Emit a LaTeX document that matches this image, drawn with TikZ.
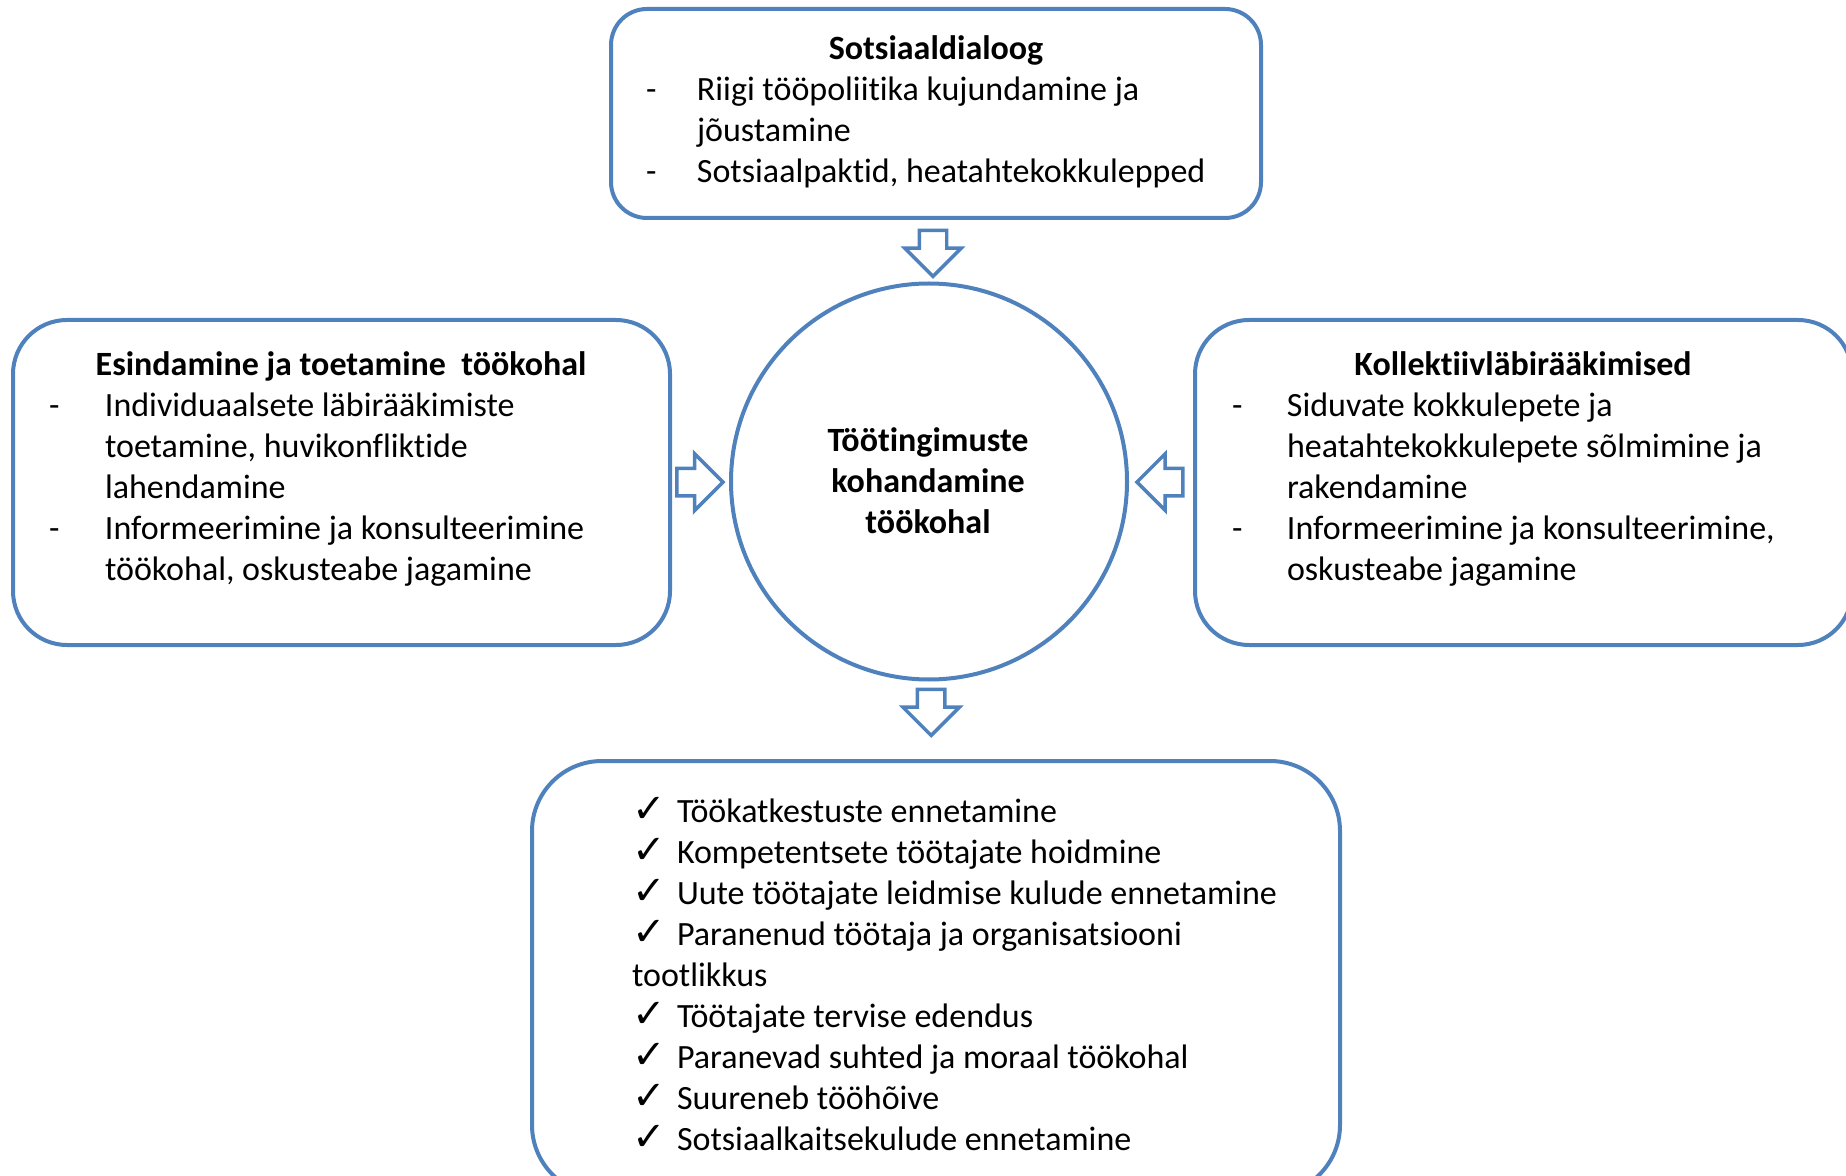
\documentclass[tikz,border=0pt]{standalone}
\usepackage{fontspec}
\setmainfont{Carlito}[Ligatures=NoCommon]
\newfontfamily\chkfont{DejaVu Sans}
\usetikzlibrary{shapes.arrows,calc}
\definecolor{frameblue}{RGB}{79,129,189}
\newcommand{\chk}{{\chkfont\fontsize{30}{30}\selectfont ✓}}
\tikzset{every picture/.style={line width=3pt}}
\tikzset{
	roundbox/.style={draw=frameblue, line width=3pt, fill=white, inner sep=0pt},
	ringnode/.style={draw=frameblue, line width=3pt, circle, inner sep=0pt, minimum size=297pt},
	blockarr/.style={single arrow, draw=frameblue, line width=2.6pt, fill=white, inner xsep=6pt, inner ysep=9pt, minimum height=34.5pt, single arrow head extend=10.9pt},
	boxtext/.style={inner sep=0pt, font=\fontsize{25.5}{30.75}\selectfont},
	titletext/.style={inner sep=0pt, font=\fontsize{25.5}{30.75}\selectfont\bfseries},
}

\begin{document}
\begin{tikzpicture}[x=0.75pt,y=0.75pt,yscale=-1,xscale=1]
	\useasboundingbox (0,0) rectangle (1846,1176);
	\clip (0,0) rectangle (1846,1176);
	
	%Shape: Rounded Rectangle [top] 
	\node[roundbox, minimum width=487.5pt, minimum height=156.75pt, rounded corners=27pt] (sd) at (936,113.5) {};
	%Shape: Rounded Rectangle [left] 
	\node[roundbox, minimum width=492.75pt, minimum height=243.75pt, rounded corners=40.5pt] (rep) at (341.5,482.5) {};
	%Shape: Rounded Rectangle [right] 
	\node[roundbox, minimum width=492.75pt, minimum height=243.75pt, rounded corners=40.5pt] (coll) at (1523.5,482.5) {};
	%Shape: Rounded Rectangle [bottom] 
	\node[roundbox, minimum width=606pt, minimum height=325.5pt, rounded corners=52.5pt] (res) at (936,978) {};
	%Shape: Circle 
	\node[ringnode] (core) at (929,481.5) {};
	
	%Block Arrows 
	\node[blockarr, rotate=-90] (arrsd) at ($(sd.south)!0.43!(core.north)$) {};
	\node[blockarr] (arrrep) at ($(rep.east)!0.37!(core.west)$) {};
	\node[blockarr, rotate=180] (arrcoll) at ($(coll.west)!0.41!(core.east)$) {};
	\node[blockarr, rotate=-90] (arrres) at ($(core.south)!0.31!(res.north)$) {};
	
	% Text Node
	\node[titletext, anchor=base] (sdtitle) at (936,60) {Sotsiaaldialoog};
	% Text Node
	\node[boxtext, anchor=base west] (sdlist) at (644,101) {\begin{tabular}[t]{@{}p{38.25pt}@{}l@{}}
		- & Riigi tööpoliitika kujundamine ja\\
		  & jõustamine\\
		- & Sotsiaalpaktid, heatahtekokkulepped
	\end{tabular}};
	% Text Node
	\node[titletext, anchor=base] (coretext) at (928,452) {\begin{tabular}[t]{@{}c@{}}
		Töötingimuste\\ kohandamine\\ töökohal
	\end{tabular}};
	% Text Node
	\node[titletext, anchor=base] (reptitle) at (341,376) {Esindamine ja toetamine\ \ töökohal};
	% Text Node
	\node[boxtext, anchor=base west] (replist) at (47,417) {\begin{tabular}[t]{@{}p{42pt}@{}l@{}}
		- & Individuaalsete läbirääkimiste\\
		  & toetamine, huvikonfliktide\\
		  & lahendamine\\
		- & Informeerimine ja konsulteerimine\\
		  & töökohal, oskusteabe jagamine
	\end{tabular}};
	% Text Node
	\node[titletext, anchor=base] (colltitle) at (1523,376) {Kollektiivläbirääkimised};
	% Text Node
	\node[boxtext, anchor=base west] (colllist) at (1230,417) {\begin{tabular}[t]{@{}p{41.25pt}@{}l@{}}
		- & Siduvate kokkulepete ja\\
		  & heatahtekokkulepete sõlmimine ja\\
		  & rakendamine\\
		- & Informeerimine ja konsulteerimine,\\
		  & oskusteabe jagamine
	\end{tabular}};
	% Text Node
	\node[boxtext, anchor=base west] (reslist) at (630,822) {\begin{tabular}[t]{@{}p{33.75pt}@{}l@{}}
		\chk & Töökatkestuste ennetamine\\
		\chk & Kompetentsete töötajate hoidmine\\
		\chk & Uute töötajate leidmise kulude ennetamine\\
		\chk & Paranenud töötaja ja organisatsiooni\\
		\multicolumn{2}{@{}l@{}}{tootlikkus}\\
		\chk & Töötajate tervise edendus\\
		\chk & Paranevad suhted ja moraal töökohal\\
		\chk & Suureneb tööhõive\\
		\chk & Sotsiaalkaitsekulude ennetamine
	\end{tabular}};
	
\end{tikzpicture}
\end{document}
